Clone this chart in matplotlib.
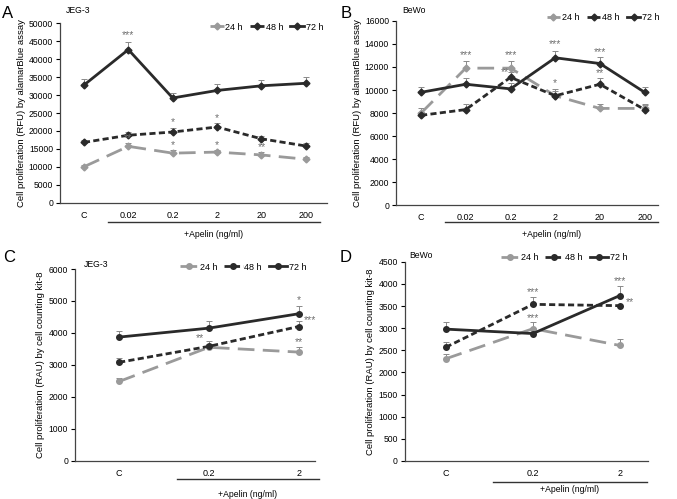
import matplotlib
matplotlib.use("Agg")
import matplotlib.pyplot as plt
import matplotlib.transforms as mtransforms

plt.rcParams['font.family'] = ['Liberation Sans', 'DejaVu Sans']

# ---------------- data ----------------
cats_ab = ["C", "0.02", "0.2", "2", "20", "200"]
cats_cd = ["C", "0.2", "2"]
series = ["24 h", "48 h", "72 h"]

# Panel A (JEG-3, alamarBlue)
a_24 = [10000, 15700, 13800, 14100, 13300, 12100]
a_24e = [400, 800, 900, 600, 700, 600]
a_48 = [16800, 18800, 19700, 21100, 17800, 15800]
a_48e = [800, 900, 1100, 1000, 900, 700]
a_72 = [32800, 42700, 29200, 31300, 32600, 33300]
a_72e = [1700, 2100, 1500, 1700, 1700, 1700]
a_stars = [(1, 46700, "***"), (1, 17900, "**"), (2, 22600, "*"), (2, 16100, "*"),
           (3, 23500, "*"), (3, 16100, "*"), (4, 15600, "**")]

# Panel B (BeWo, alamarBlue)
b_24 = [8000, 11900, 11900, 9500, 8400, 8400]
b_24e = [400, 600, 600, 600, 400, 400]
b_48 = [7800, 8300, 11100, 9500, 10500, 8300]
b_48e = [250, 500, 500, 400, 500, 400]
b_72 = [9800, 10500, 10100, 12800, 12300, 9800]
b_72e = [500, 500, 500, 600, 600, 500]
b_stars = [(1, 13000, "***"), (2, 13000, "***"), (1.88, 11600, "**"), (3, 10600, "*"),
           (3, 14000, "***"), (4, 13300, "***"), (4, 11500, "**")]

# Panel C (JEG-3, CCK-8)
c_24 = [2480, 3550, 3400]
c_24e = [100, 100, 160]
c_48 = [3080, 3580, 4200]
c_48e = [150, 180, 180]
c_72 = [3870, 4150, 4600]
c_72e = [200, 220, 250]
c_stars = [(0.9, 3830, "**"), (2, 5030, "*"), (2.13, 4400, "***"), (2, 3720, "**")]

# Panel D (BeWo, CCK-8)
d_24 = [2310, 2990, 2610]
d_24e = [100, 160, 140]
d_48 = [2570, 3540, 3510]
d_48e = [130, 170, 0]
d_72 = [2980, 2880, 3740]
d_72e = [150, 130, 210]
d_stars = [(1, 3815, "***"), (1, 3240, "***"), (2, 4055, "***"), (2.11, 3590, "**")]

# ---------------- figure ----------------
fig = plt.figure(figsize=(6.77, 4.99), dpi=100)

gray = "#9a9a9a"
dark = "#2a2a2a"
styles = {
    "24 h": dict(color=gray, linestyle=(0, (6, 3)), lw=2.0),
    "48 h": dict(color=dark, linestyle=(0, (2.2, 1.2)), lw=2.0),
    "72 h": dict(color=dark, linestyle="-", lw=2.0),
}


def panel(rect, cats, vals, errs, ylim, yticks, ylabel, letter, cell, stars,
          xlim, apelin_x, apelin_y, text_y, legend_anchor, marker, letter_xy, cell_xy,
          handlelength, labelpad):
    ax = fig.add_axes(rect)
    x = list(range(len(cats)))
    handles = []
    for name, v, e in zip(series, vals, errs):
        st = styles[name]
        ax.errorbar(x, v, yerr=[[0] * len(v), e], fmt="none", ecolor="#8a8a8a",
                    elinewidth=0.7, capsize=2, capthick=0.7, zorder=2)
        h, = ax.plot(x, v, marker=marker, markersize=3.5 if marker == "D" else 4,
                     markerfacecolor=st["color"], markeredgecolor=st["color"],
                     color=st["color"], linestyle=st["linestyle"], lw=st["lw"],
                     label=name, zorder=3)
        handles.append(h)
    for xi, yv, t in stars:
        ax.text(xi, yv, t, ha="center", va="center", fontsize=7.5, color="#707070")
    ax.set_xlim(*xlim)
    ax.set_ylim(*ylim)
    ax.set_yticks(yticks)
    ax.set_xticks(x)
    ax.set_xticklabels(cats, fontsize=6.5)
    ax.tick_params(axis="x", length=0, pad=6)
    ax.tick_params(axis="y", labelsize=6.2, length=3, width=0.8, pad=2)
    for sp in ["top", "right"]:
        ax.spines[sp].set_visible(False)
    for sp in ["left", "bottom"]:
        ax.spines[sp].set_linewidth(0.9)
        ax.spines[sp].set_color("#444444")
    ax.set_ylabel(ylabel, fontsize=6.8, labelpad=labelpad)
    trans = mtransforms.blended_transform_factory(ax.transData, ax.transAxes)
    ax.plot(apelin_x, [apelin_y, apelin_y], color="#333333", lw=1.0,
            transform=trans, clip_on=False)
    ax.text(sum(apelin_x) / 2, text_y, "+Apelin (ng/ml)", transform=trans,
            ha="center", va="center", fontsize=6.2)
    ax.legend(handles=handles, loc="center right", bbox_to_anchor=legend_anchor,
              ncol=3, frameon=False, fontsize=6.5, handlelength=handlelength,
              handletextpad=0.2, columnspacing=0.8, borderaxespad=0)
    fig.text(letter_xy[0], letter_xy[1], letter, fontsize=12, ha="left", va="center")
    fig.text(cell_xy[0], cell_xy[1], cell, fontsize=6.2, ha="left", va="center")
    return ax


panel([0.0886, 0.594, 0.394, 0.359], cats_ab, [a_24, a_48, a_72], [a_24e, a_48e, a_72e],
      (0, 50000), range(0, 50001, 5000), "Cell proliferation (RFU) by alamarBlue assay",
      "A", "JEG-3", a_stars, (-0.54, 5.47), [0.54, 5.31], -0.107, -0.176,
      (1.0, 0.98), "D", (0.003, 0.972), (0.098, 0.978), 1.5, 2)

panel([0.585, 0.589, 0.387, 0.369], cats_ab, [b_24, b_48, b_72], [b_24e, b_48e, b_72e],
      (0, 16000), range(0, 16001, 2000), "Cell proliferation (RFU) by alamarBlue assay",
      "B", "BeWo", b_stars, (-0.56, 5.3), [0.54, 5.29], -0.092, -0.158,
      (1.02, 1.02), "D", (0.503, 0.972), (0.594, 0.978), 1.5, 2)

panel([0.111, 0.0768, 0.354, 0.384], cats_cd, [c_24, c_48, c_72], [c_24e, c_48e, c_72e],
      (0, 6000), range(0, 6001, 1000), "Cell proliferation (RAU) by cell counting kit-8",
      "C", "JEG-3", c_stars, (-0.49, 2.18), [0.64, 2.23], -0.095, -0.175,
      (0.98, 1.01), "o", (0.005, 0.483), (0.124, 0.469), 2.0, 2.5)

panel([0.598, 0.0762, 0.359, 0.399], cats_cd, [d_24, d_48, d_72], [d_24e, d_48e, d_72e],
      (0, 4500), range(0, 4501, 500), "Cell proliferation (RAU) by cell counting kit-8",
      "D", "BeWo", d_stars, (-0.47, 2.32), [0.54, 2.31], -0.105, -0.142,
      (0.93, 1.02), "o", (0.502, 0.483), (0.605, 0.487), 2.0, 2.5)

fig.savefig("out.png", dpi=100)
